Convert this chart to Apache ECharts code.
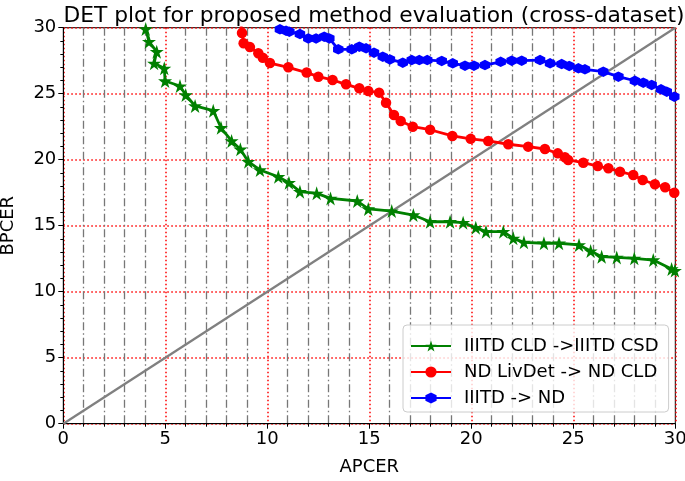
<!DOCTYPE html>
<html>
<head>
<meta charset="utf-8">
<script src="https://cdn.jsdelivr.net/npm/echarts@6/dist/echarts.min.js"></script>
<style>
html,body{margin:0;padding:0;background:#fff;}
#chart{width:685px;height:481px;}
</style>
</head>
<body>
<div id="chart"></div>
<script>
const titleText = 'DET plot for proposed method evaluation (cross-dataset)';
const xAxisName = 'APCER';
const yAxisName = 'BPCER';
const seriesNames = ['IIITD CLD ->IIITD CSD', 'ND LivDet -> ND CLD', 'IIITD -> ND'];

const apcerGreen = [4.04, 4.2, 4.58, 4.45, 4.95, 4.99, 5.72, 6.0, 6.46, 7.35, 7.73, 8.25, 8.68, 9.07, 9.64, 10.54, 11.06, 11.6, 12.42, 13.1, 14.41, 14.95, 16.1, 17.16, 17.98, 18.96, 19.6, 20.22, 20.72, 21.57, 22.06, 22.58, 23.56, 24.3, 25.28, 25.85, 26.39, 27.13, 27.99, 28.92, 29.82, 29.98];
const bpcerGreen = [29.9, 28.94, 28.18, 27.3, 26.92, 25.96, 25.58, 24.9, 24.07, 23.71, 22.42, 21.42, 20.79, 19.85, 19.22, 18.71, 18.26, 17.58, 17.45, 17.07, 16.87, 16.27, 16.11, 15.81, 15.3, 15.3, 15.23, 14.85, 14.55, 14.55, 14.04, 13.74, 13.67, 13.67, 13.54, 13.08, 12.65, 12.6, 12.53, 12.4, 11.72, 11.6];

const apcerRed = [8.72, 8.76, 8.84, 9.15, 9.56, 9.78, 10.13, 11.03, 11.93, 12.5, 13.2, 13.86, 14.51, 14.95, 15.48, 15.82, 16.21, 16.54, 17.13, 17.98, 19.07, 19.97, 20.83, 21.81, 22.79, 23.61, 24.24, 24.59, 24.75, 25.49, 26.2, 26.72, 27.29, 27.94, 28.4, 29.0, 29.5, 29.95];
const bpcerRed = [30.1, 29.6, 28.82, 28.53, 28.06, 27.72, 27.32, 27.0, 26.6, 26.29, 26.04, 25.71, 25.41, 25.2, 25.08, 24.32, 23.39, 22.93, 22.5, 22.27, 21.8, 21.58, 21.42, 21.17, 20.99, 20.81, 20.48, 20.18, 19.98, 19.77, 19.52, 19.35, 19.09, 18.84, 18.46, 18.14, 17.91, 17.5];

const apcerBlue = [10.5, 10.62, 10.92, 11.08, 11.6, 12.01, 12.39, 12.79, 13.04, 13.48, 14.14, 14.51, 14.84, 15.23, 15.66, 16.01, 16.64, 17.08, 17.45, 17.84, 18.55, 19.09, 19.69, 20.13, 20.67, 21.44, 21.98, 22.47, 23.37, 23.86, 24.43, 24.8, 25.25, 25.57, 26.47, 27.21, 28.02, 28.43, 28.84, 29.3, 29.58, 29.95];
const bpcerBlue = [30.1, 29.88, 29.77, 29.7, 29.52, 29.19, 29.19, 29.32, 29.19, 28.36, 28.36, 28.56, 28.44, 28.11, 27.8, 27.6, 27.35, 27.55, 27.55, 27.55, 27.48, 27.3, 27.12, 27.12, 27.17, 27.42, 27.5, 27.5, 27.55, 27.3, 27.25, 27.1, 26.92, 26.85, 26.67, 26.29, 25.98, 25.83, 25.66, 25.33, 25.15, 24.77];

const diagX = [0, 30];
const diagY = [0, 30];

const axisTicks = [0, 5, 10, 15, 20, 25, 30];

function pairs(xs, ys) { return xs.map((x, i) => [x, ys[i]]); }

const starPath = 'path://M50,0 L61.2,34.5 L97.6,34.5 L68.2,55.9 L79.4,90.5 L50,69.1 L20.6,90.5 L31.8,55.9 L2.4,34.5 L38.8,34.5 Z';
const hexPath = 'path://M50,0 L93.3,25 L93.3,75 L50,100 L6.7,75 L6.7,25 Z';

const FONT = 'DejaVu Sans';
const chart = echarts.init(document.getElementById('chart'), null, {renderer: 'canvas'});

function axisCommon() {
  return {
    type: 'value',
    min: axisTicks[0],
    max: axisTicks[axisTicks.length - 1],
    interval: 5,
    nameLocation: 'middle',
    nameTextStyle: {fontFamily: FONT, fontSize: 18, color: '#000'},
    axisLine: {show: true, lineStyle: {color: '#000', width: 1}},
    axisTick: {show: true, length: 5, lineStyle: {color: '#000', width: 1}},
    minorTick: {show: true, splitNumber: 5, length: 3, lineStyle: {color: '#000', width: 1}},
    axisLabel: {fontFamily: FONT, fontSize: 18, color: '#000', margin: 7},
    splitLine: {show: true, lineStyle: {color: '#ff0000', opacity: 1, type: [1.5, 2.5], width: 1.5}}
  };
}

chart.setOption({
  animation: false,
  backgroundColor: '#fff',
  title: {
    text: titleText,
    left: 369,
    top: 0,
    textAlign: 'center',
    textStyle: {fontFamily: FONT, fontSize: 21.8, fontWeight: 'normal', color: '#000'}
  },
  grid: {
    left: 63.3, right: 9.7, top: 27.7, bottom: 57.3,
    containLabel: false,
    outerBoundsMode: 'none',
    show: true, borderColor: '#000', borderWidth: 1, backgroundColor: 'transparent'
  },
  legend: {
    data: seriesNames,
    orient: 'vertical',
    left: 403,
    top: 325,
    padding: [12, 10, 5, 7],
    itemGap: 8,
    itemWidth: 40,
    itemHeight: 14,
    backgroundColor: 'rgba(255,255,255,0.8)',
    borderColor: '#cccccc',
    borderWidth: 1,
    borderRadius: 4,
    textStyle: {fontFamily: FONT, fontSize: 18, color: '#000', lineHeight: 18, padding: [0, 0, 0, 8]}
  },
  xAxis: Object.assign(axisCommon(), {
    name: xAxisName,
    nameGap: 35,
    minorSplitLine: {show: true, lineStyle: {color: '#777777', width: 1.3, type: [8, 3, 1.5, 3]}}
  }),
  yAxis: Object.assign(axisCommon(), {
    name: yAxisName,
    nameGap: 46
  }),
  series: [
    {
      name: 'diag', type: 'line', data: pairs(diagX, diagY), symbol: 'none', silent: true,
      lineStyle: {color: '#808080', width: 2.3}, z: 1
    },
    {
      name: seriesNames[0], type: 'line', data: pairs(apcerGreen, bpcerGreen),
      symbol: starPath, symbolSize: 14, showAllSymbol: true,
      itemStyle: {color: '#008000'}, lineStyle: {color: '#008000', width: 2.8}, z: 2
    },
    {
      name: seriesNames[1], type: 'line', data: pairs(apcerRed, bpcerRed),
      symbol: 'circle', symbolSize: 10.5, showAllSymbol: true,
      itemStyle: {color: '#ff0000'}, lineStyle: {color: '#ff0000', width: 2.8}, z: 3
    },
    {
      name: seriesNames[2], type: 'line', data: pairs(apcerBlue, bpcerBlue),
      symbol: hexPath, symbolSize: 10.5, showAllSymbol: true,
      itemStyle: {color: '#0000ff'}, lineStyle: {color: '#0000ff', width: 2.8}, z: 4
    }
  ]
});
</script>
</body>
</html>
